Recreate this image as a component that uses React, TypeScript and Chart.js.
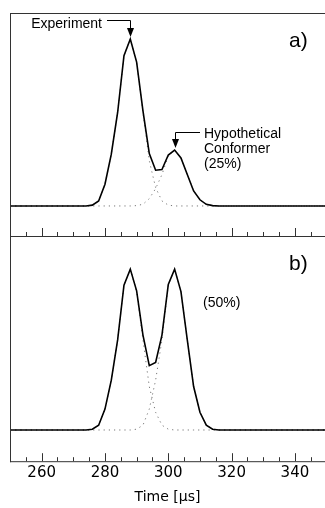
import React, { useEffect, useRef } from "react";
import { Chart, registerables } from "chart.js";

Chart.register(...registerables);

// Time axis sample points (µs)
const times = [250, 272, 274, 276, 278, 280, 282, 284, 286, 288, 290, 292, 294, 296, 298, 300, 302, 304, 306, 308, 310, 312, 314, 316, 318, 350];

// Panel a) — experiment (sum), main component, hypothetical conformer (25%)
const aExperiment = [0, 0, 0, 0.005, 0.03, 0.13, 0.31, 0.56, 0.9, 1.0, 0.862, 0.57, 0.314, 0.214, 0.218, 0.305, 0.335, 0.288, 0.188, 0.09, 0.037, 0.01, 0.002, 0, 0, 0];
const aMain = [0, 0, 0, 0.005, 0.03, 0.13, 0.31, 0.56, 0.9, 1.0, 0.86, 0.56, 0.27, 0.11, 0.03, 0.005, 0, 0, 0, 0, 0, 0, 0, 0, 0, 0];
const aConformer = [0, 0, 0, 0, 0, 0, 0, 0, 0, 0, 0.002, 0.01, 0.044, 0.104, 0.188, 0.3, 0.335, 0.288, 0.188, 0.09, 0.037, 0.01, 0.002, 0, 0, 0];

// Panel b) — 50% conformer
const bExperiment = [0, 0, 0, 0.005, 0.03, 0.13, 0.31, 0.56, 0.9, 1.0, 0.865, 0.59, 0.4, 0.42, 0.59, 0.905, 1.0, 0.86, 0.56, 0.27, 0.11, 0.03, 0.005, 0, 0, 0];
const bMain = [0, 0, 0, 0.005, 0.03, 0.13, 0.31, 0.56, 0.9, 1.0, 0.86, 0.56, 0.27, 0.11, 0.03, 0.005, 0, 0, 0, 0, 0, 0, 0, 0, 0, 0];
const bConformer = [0, 0, 0, 0, 0, 0, 0, 0, 0, 0, 0.005, 0.03, 0.13, 0.31, 0.56, 0.9, 1.0, 0.86, 0.56, 0.27, 0.11, 0.03, 0.005, 0, 0, 0];

// Axis ticks
const xTickLabels = [260, 280, 300, 320, 340];
const xMinorTicks = [255, 265, 270, 275, 285, 290, 295, 305, 310, 315, 325, 330, 335, 345];

const pts = (arr: number[]) => times.map((t, i) => ({ x: t, y: arr[i] }));

const SANS = '"Liberation Sans", Arial, Helvetica, sans-serif';

function solid(data: number[]) {
  return {
    data: pts(data),
    borderColor: "#000",
    borderWidth: 1.6,
    pointRadius: 0,
    tension: 0,
    fill: false,
  };
}
function dotted(data: number[]) {
  return {
    data: pts(data),
    borderColor: "#777",
    borderWidth: 1,
    borderDash: [1.2, 4],
    pointRadius: 0,
    tension: 0,
    fill: false,
  };
}

function arrowHead(ctx: CanvasRenderingContext2D, x: number, tipY: number) {
  ctx.beginPath();
  ctx.moveTo(x - 3.5, tipY - 9);
  ctx.lineTo(x + 3.5, tipY - 9);
  ctx.lineTo(x, tipY);
  ctx.closePath();
  ctx.fill();
}

function framePlugin(drawTop: boolean, annotate: (ctx: CanvasRenderingContext2D, chart: any) => void) {
  return {
    id: "frame",
    afterDraw(chart: any) {
      const { ctx, chartArea } = chart;
      const { left, right, top, bottom } = chartArea;
      const x = chart.scales.x;
      ctx.save();
      ctx.strokeStyle = "#333";
      ctx.lineWidth = 1;
      ctx.beginPath();
      ctx.moveTo(left + 0.5, top);
      ctx.lineTo(left + 0.5, bottom + 1);
      ctx.moveTo(left, bottom + 0.5);
      ctx.lineTo(right, bottom + 0.5);
      if (drawTop) {
        ctx.moveTo(left, top + 0.5);
        ctx.lineTo(right, top + 0.5);
      }
      xTickLabels.forEach((v) => {
        const p = Math.round(x.getPixelForValue(v)) + 0.5;
        ctx.moveTo(p, bottom);
        ctx.lineTo(p, bottom - 8);
      });
      xMinorTicks.forEach((v) => {
        const p = Math.round(x.getPixelForValue(v)) + 0.5;
        ctx.moveTo(p, bottom);
        ctx.lineTo(p, bottom - 4);
      });
      ctx.stroke();
      ctx.strokeStyle = "#000";
      ctx.fillStyle = "#000";
      annotate(ctx, chart);
      ctx.restore();
    },
  };
}

const annotateA = (ctx: CanvasRenderingContext2D, chart: any) => {
  const x = chart.scales.x;
  const y = chart.scales.y;
  // Experiment label + arrow
  const ex = Math.round(x.getPixelForValue(288)) + 0.5;
  const ey = y.getPixelForValue(1.0) - 2;
  ctx.font = `14px ${SANS}`;
  ctx.textAlign = "right";
  ctx.textBaseline = "alphabetic";
  ctx.fillText("Experiment", 102, 28);
  ctx.beginPath();
  ctx.moveTo(107, 20.5);
  ctx.lineTo(ex, 20.5);
  ctx.lineTo(ex, ey - 8);
  ctx.stroke();
  arrowHead(ctx, ex, ey);
  // Conformer label + arrow
  const cx = Math.round(x.getPixelForValue(302)) + 0.5;
  const cy = y.getPixelForValue(0.335) - 2;
  ctx.beginPath();
  ctx.moveTo(200, 132.5);
  ctx.lineTo(cx, 132.5);
  ctx.lineTo(cx, cy - 8);
  ctx.stroke();
  arrowHead(ctx, cx, cy);
  ctx.textAlign = "left";
  ctx.fillText("Hypothetical", 204, 138);
  ctx.fillText("Conformer", 204, 153);
  ctx.fillText("(25%)", 204, 168);
  // panel tag
  ctx.font = `21px ${SANS}`;
  ctx.fillText("a)", 289, 47);
};

const annotateB = (ctx: CanvasRenderingContext2D) => {
  ctx.textAlign = "left";
  ctx.textBaseline = "alphabetic";
  ctx.font = `14px ${SANS}`;
  ctx.fillText("(50%)", 203, 307);
  ctx.font = `21px ${SANS}`;
  ctx.fillText("b)", 289, 270);
};

export default function App() {
  const refA = useRef<HTMLCanvasElement>(null);
  const refB = useRef<HTMLCanvasElement>(null);

  useEffect(() => {
    const chartA = new Chart(refA.current as HTMLCanvasElement, {
      type: "line",
      data: {
        datasets: [solid(aExperiment), dotted(aMain), dotted(aConformer)] as any,
      },
      options: {
        responsive: false,
        animation: false,
        events: [],
        layout: { padding: { left: 10, right: 0, top: 13, bottom: 272 } },
        plugins: { legend: { display: false }, tooltip: { enabled: false } },
        scales: {
          x: { type: "linear", min: 250, max: 349.5, display: false },
          y: { type: "linear", min: -0.18, max: 1.156, display: false },
        },
      },
      plugins: [framePlugin(true, annotateA)],
    } as any);

    const chartB = new Chart(refB.current as HTMLCanvasElement, {
      type: "line",
      data: {
        datasets: [solid(bExperiment), dotted(bMain), dotted(bConformer)] as any,
      },
      options: {
        responsive: false,
        animation: false,
        events: [],
        layout: { padding: { left: 10, right: 0, top: 236, bottom: 0 } },
        plugins: { legend: { display: false }, tooltip: { enabled: false } },
        scales: {
          x: {
            type: "linear",
            min: 250,
            max: 349.5,
            display: true,
            grid: { display: false, drawTicks: false },
            border: { display: false },
            afterBuildTicks: (scale: any) => {
              scale.ticks = xTickLabels.map((v) => ({ value: v }));
            },
            ticks: {
              autoSkip: false,
              maxRotation: 0,
              padding: 3,
              color: "#000",
              font: { family: "DejaVu Sans", size: 15 },
              callback: (v: any) => String(v),
            },
            title: {
              display: true,
              text: "Time [µs]",
              color: "#000",
              font: { family: "DejaVu Sans", size: 14 },
              padding: { top: 4, bottom: 2 },
            },
          },
          y: { type: "linear", min: -0.194, max: 1.206, display: false },
        },
      },
      plugins: [framePlugin(false, annotateB)],
    } as any);

    return () => {
      chartA.destroy();
      chartB.destroy();
    };
  }, []);

  return (
    <div
      style={{
        position: "absolute",
        left: 0,
        top: 0,
        width: 325,
        height: 508,
        overflow: "hidden",
        background: "#fff",
      }}
    >
      <canvas ref={refA} width={325} height={508} style={{ position: "absolute", left: 0, top: 0 }} />
      <canvas ref={refB} width={325} height={508} style={{ position: "absolute", left: 0, top: 0 }} />
    </div>
  );
}
